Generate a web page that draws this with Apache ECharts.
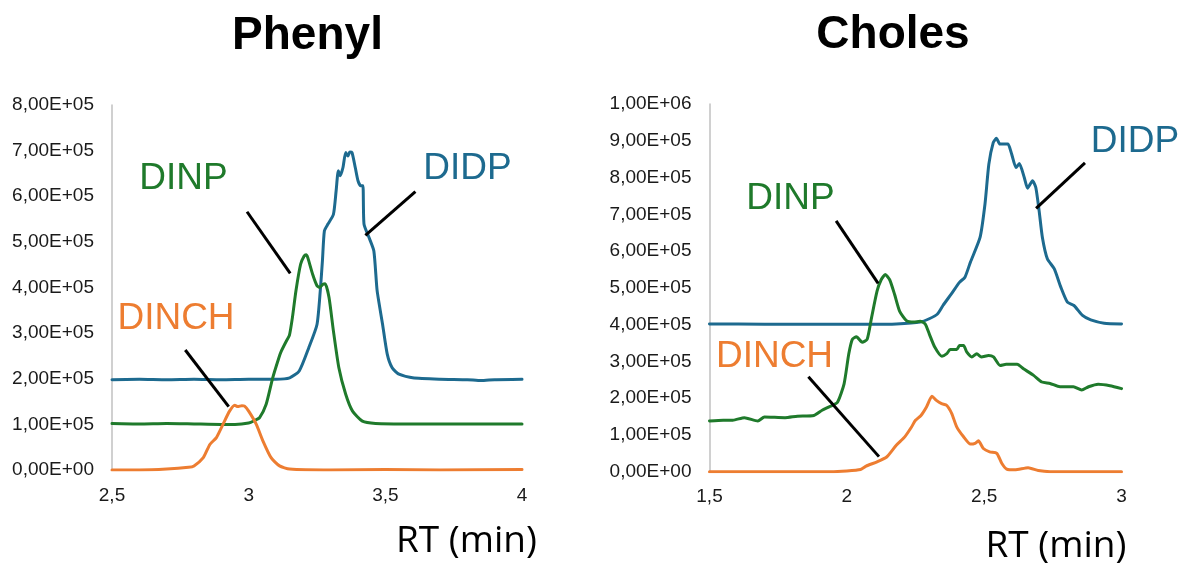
<!DOCTYPE html>
<html>
<head>
<meta charset="utf-8">
<script src="https://cdn.jsdelivr.net/npm/echarts@6/dist/echarts.min.js"></script>
<style>
html,body{margin:0;padding:0;background:#fff;}
#chart{width:1184px;height:565px;}
</style>
</head>
<body>
<div id="chart"></div>
<script>
// ---------- Titles / labels ----------
const panelTitles = ['Phenyl', 'Choles'];
const xAxisTitle = 'RT (min)';
const seriesNames = ['DIDP', 'DINP', 'DINCH'];

// ---------- Phenyl panel (RT in min, intensity in counts) ----------
const phenylDIDP_rt  = [2.5,2.6,2.7,2.8,2.9,3.0,3.1,3.15,3.185,3.22,3.25,3.262,3.27,3.277,3.29,3.31,3.32,3.328,3.335,3.345,3.355,3.363,3.37,3.378,3.39,3.40,3.41,3.418,3.422,3.44,3.458,3.47,3.49,3.507,3.525,3.55,3.6,3.7,3.8,3.85,3.9,4.0];
const phenylDIDP_val = [1.98e5,1.99e5,1.98e5,1.99e5,1.98e5,1.99e5,1.99e5,2.02e5,2.17e5,2.68e5,3.19e5,3.93e5,4.6e5,5.24e5,5.39e5,5.6e5,6.12e5,6.56e5,6.45e5,6.63e5,6.96e5,6.88e5,6.97e5,6.96e5,6.63e5,6.34e5,6.23e5,6.23e5,5.39e5,5.1e5,4.8e5,3.93e5,3.19e5,2.54e5,2.24e5,2.1e5,2.02e5,1.99e5,1.98e5,1.96e5,1.98e5,1.99e5];

const phenylDINP_rt  = [2.5,2.6,2.7,2.8,2.9,2.95,3.0,3.02,3.04,3.064,3.088,3.11,3.119,3.14,3.149,3.16,3.173,3.19,3.203,3.21,3.216,3.234,3.25,3.26,3.272,3.28,3.294,3.31,3.33,3.355,3.38,3.416,3.464,3.6,3.8,4.0];
const phenylDINP_val = [1.02e5,1.01e5,1.02e5,1.01e5,1.0e5,1.0e5,1.03e5,1.08e5,1.15e5,1.44e5,2.02e5,2.45e5,2.6e5,2.85e5,2.95e5,3.34e5,3.93e5,4.51e5,4.69e5,4.72e5,4.66e5,4.29e5,4.04e5,4.0e5,4.07e5,4.08e5,3.78e5,3.05e5,2.24e5,1.66e5,1.29e5,1.07e5,1.02e5,1.01e5,1.01e5,1.01e5];

const phenylDINCH_rt  = [2.5,2.6,2.7,2.78,2.8,2.834,2.858,2.882,2.906,2.93,2.949,2.96,2.975,2.985,3.0,3.028,3.052,3.082,3.113,3.15,3.3,3.5,3.7,4.0];
const phenylDINCH_val = [0,0,0.02e5,0.06e5,0.09e5,0.27e5,0.56e5,0.71e5,1.0e5,1.29e5,1.42e5,1.39e5,1.41e5,1.40e5,1.29e5,1.0e5,0.64e5,0.27e5,0.09e5,0.02e5,0,0.01e5,0,0.01e5];

// ---------- Choles panel ----------
const cholesDIDP_rt  = [1.5,1.7,1.9,2.1,2.18,2.267,2.30,2.33,2.35,2.38,2.41,2.43,2.45,2.485,2.503,2.517,2.533,2.545,2.557,2.575,2.587,2.60,2.616,2.628,2.646,2.658,2.676,2.688,2.70,2.712,2.73,2.755,2.779,2.803,2.827,2.858,2.888,2.937,3.0];
const cholesDIDP_val = [4.02e5,4.01e5,4.01e5,4.01e5,4.02e5,4.07e5,4.16e5,4.29e5,4.52e5,4.83e5,5.15e5,5.29e5,5.70e5,6.37e5,7.28e5,8.36e5,8.95e5,9.07e5,8.91e5,8.91e5,8.91e5,8.64e5,8.27e5,8.38e5,8.0e5,7.71e5,7.91e5,7.73e5,7.1e5,6.37e5,5.79e5,5.52e5,5.02e5,4.61e5,4.52e5,4.25e5,4.13e5,4.04e5,4.02e5];

const cholesDINP_rt  = [1.5,1.55,1.585,1.627,1.676,1.70,1.775,1.82,1.88,1.91,1.94,1.966,1.99,2.007,2.02,2.035,2.056,2.074,2.09,2.11,2.125,2.14,2.156,2.174,2.192,2.217,2.243,2.267,2.285,2.30,2.32,2.346,2.364,2.376,2.40,2.41,2.425,2.437,2.455,2.473,2.49,2.516,2.534,2.558,2.58,2.62,2.643,2.68,2.71,2.74,2.776,2.825,2.855,2.88,2.915,2.958,3.0];
const cholesDINP_val = [1.38e5,1.40e5,1.40e5,1.47e5,1.38e5,1.49e5,1.47e5,1.51e5,1.53e5,1.67e5,1.78e5,1.89e5,2.39e5,3.2e5,3.6e5,3.67e5,3.52e5,3.6e5,4.19e5,4.91e5,5.22e5,5.36e5,5.22e5,4.82e5,4.37e5,4.11e5,4.07e5,4.09e5,4.02e5,3.75e5,3.39e5,3.14e5,3.21e5,3.32e5,3.32e5,3.43e5,3.43e5,3.25e5,3.12e5,3.21e5,3.12e5,3.16e5,3.12e5,2.89e5,2.92e5,2.92e5,2.80e5,2.62e5,2.44e5,2.40e5,2.31e5,2.31e5,2.22e5,2.31e5,2.38e5,2.34e5,2.26e5];

const cholesDINCH_rt  = [1.5,1.7,1.94,2.0,2.05,2.07,2.11,2.145,2.18,2.21,2.235,2.25,2.27,2.29,2.31,2.326,2.345,2.364,2.382,2.40,2.425,2.45,2.467,2.479,2.497,2.52,2.546,2.564,2.582,2.612,2.66,2.697,2.74,3.0];
const cholesDINCH_val = [0,0,0,0.02e5,0.06e5,0.15e5,0.27e5,0.40e5,0.72e5,0.94e5,1.21e5,1.40e5,1.53e5,1.76e5,2.05e5,1.94e5,1.85e5,1.80e5,1.58e5,1.22e5,0.95e5,0.75e5,0.77e5,0.84e5,0.63e5,0.54e5,0.50e5,0.23e5,0.07e5,0.05e5,0.11e5,0.03e5,0,0];

// ---------- Annotation leader lines (data coordinates: [rt, intensity] start -> end) ----------
const phenylLeaders = {
  DINP:  [[2.994, 5.66e5], [3.152, 4.31e5]],
  DIDP:  [[3.610, 6.10e5], [3.427, 5.14e5]],
  DINCH: [[2.768, 2.63e5], [2.927, 1.39e5]]
};
const cholesLeaders = {
  DINP:  [[1.961, 6.82e5], [2.114, 5.12e5]],
  DIDP:  [[2.867, 8.40e5], [2.689, 7.16e5]],
  DINCH: [[1.860, 2.58e5], [2.117, 0.41e5]]
};

// ---------- Axis ranges ----------
const phenylX = {min: 2.5, max: 4, interval: 0.5};
const phenylY = {min: 0, max: 8e5, interval: 1e5};
const cholesX = {min: 1.5, max: 3, interval: 0.5};
const cholesY = {min: 0, max: 1e6, interval: 1e5};

// ---------- Styling ----------
const colors = {DIDP: '#1d6a8f', DINP: '#1f7a2b', DINCH: '#ed7d31'};
const labelFont = '"Liberation Sans", Arial, sans-serif';

function zip(xs, ys){ return xs.map((x,i)=>[x, ys[i]]); }
function sciFmt(v){
  if (v === 0) return '0,00E+00';
  const e = Math.floor(Math.log10(v) + 1e-9);
  const m = v / Math.pow(10, e);
  return m.toFixed(2).replace('.', ',') + 'E+' + String(e).padStart(2, '0');
}
function xFmt(v){ return String(+v.toFixed(2)).replace('.', ','); }

function xAxis(gi, r){
  return {type:'value', gridIndex:gi, min:r.min, max:r.max, interval:r.interval,
    axisLine:{show:false}, axisTick:{show:false}, splitLine:{show:false},
    axisLabel:{formatter:xFmt, color:'#1a1a1a', fontSize:19, fontFamily:labelFont, margin:16}};
}
function yAxis(gi, r){
  return {type:'value', gridIndex:gi, min:r.min, max:r.max, interval:r.interval,
    axisLine:{show:true, lineStyle:{color:'#c0c0c0', width:1.5}}, axisTick:{show:false}, splitLine:{show:false},
    axisLabel:{formatter:sciFmt, color:'#1a1a1a', fontSize:19, fontFamily:labelFont, margin:18}};
}
function lineSeries(name, gi, rt, val, leader){
  const s = {name:name, type:'line', xAxisIndex:gi, yAxisIndex:gi, data:zip(rt, val),
    showSymbol:false, smooth:0.2, lineStyle:{color:colors[name], width:3, join:'round', cap:'round'},
    itemStyle:{color:colors[name]}, silent:true, z:3};
  if (leader){
    s.markLine = {silent:true, symbol:['none','none'], animation:false,
      lineStyle:{color:'#000', width:3, type:'solid'}, label:{show:false},
      data:[[{coord:leader[0]},{coord:leader[1]}]]};
  }
  return s;
}
function text(str, x, y, color, size, weight, family){
  return {type:'text', x:x, y:y, style:{text:str, fill:color, font:(weight||'normal')+' '+size+'px '+family, align:'center', verticalAlign:'middle'}};
}

const chart = echarts.init(document.getElementById('chart'), null, {renderer:'canvas'});
chart.setOption({
  animation:false,
  backgroundColor:'#fff',
  grid:[
    {left:112, top:105, width:410, height:365},
    {left:709.5, top:104, width:412, height:367.7}
  ],
  xAxis:[xAxis(0, phenylX), xAxis(1, cholesX)],
  yAxis:[yAxis(0, phenylY), yAxis(1, cholesY)],
  series:[
    lineSeries('DIDP', 0, phenylDIDP_rt, phenylDIDP_val, phenylLeaders.DIDP),
    lineSeries('DINP', 0, phenylDINP_rt, phenylDINP_val, phenylLeaders.DINP),
    lineSeries('DINCH', 0, phenylDINCH_rt, phenylDINCH_val, phenylLeaders.DINCH),
    lineSeries('DIDP', 1, cholesDIDP_rt, cholesDIDP_val, cholesLeaders.DIDP),
    lineSeries('DINP', 1, cholesDINP_rt, cholesDINP_val, cholesLeaders.DINP),
    lineSeries('DINCH', 1, cholesDINCH_rt, cholesDINCH_val, cholesLeaders.DINCH)
  ],
  graphic:[
    text(panelTitles[0], 307.5, 36, '#000', 46, 'bold', labelFont),
    text(panelTitles[1], 893, 35, '#000', 46, 'bold', labelFont),
    text(xAxisTitle, 466.5, 541, '#000', 37, 'normal', '"Open Sans", sans-serif'),
    text(xAxisTitle, 1056, 546, '#000', 37, 'normal', '"Open Sans", sans-serif'),
    text(seriesNames[1], 183.5, 179, colors.DINP, 37, 'normal', labelFont),
    text(seriesNames[0], 467.5, 168.5, colors.DIDP, 37, 'normal', labelFont),
    text(seriesNames[2], 176, 319, colors.DINCH, 37, 'normal', labelFont),
    text(seriesNames[1], 790.5, 198.5, colors.DINP, 37, 'normal', labelFont),
    text(seriesNames[0], 1135, 142, colors.DIDP, 37, 'normal', labelFont),
    text(seriesNames[2], 774.5, 357, colors.DINCH, 37, 'normal', labelFont)
  ]
});
</script>
</body>
</html>
